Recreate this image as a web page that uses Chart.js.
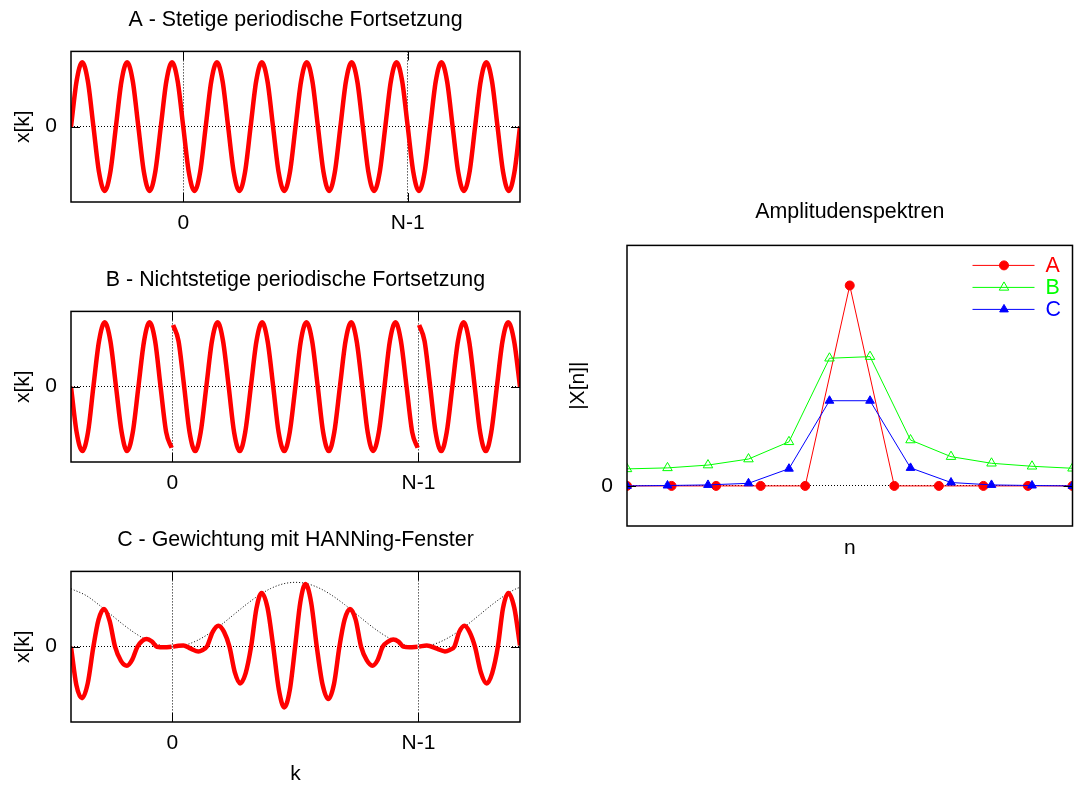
<!DOCTYPE html>
<html>
<head>
<meta charset="utf-8">
<script src="https://cdn.jsdelivr.net/npm/chart.js@4.4.1/dist/chart.umd.min.js"></script>
<style>
  body { margin: 0; background: #fff; }
  #page { position: relative; width: 1079px; height: 785px; overflow: hidden; }
  canvas { position: absolute; }
</style>
</head>
<body>
<div id="page">
  <canvas id="chartA" width="540" height="260" style="left:0px;top:0px"></canvas>
  <canvas id="chartB" width="540" height="260" style="left:0px;top:260px"></canvas>
  <canvas id="chartC" width="540" height="265" style="left:0px;top:520px"></canvas>
  <canvas id="chartSpec" width="539" height="380" style="left:540px;top:190px"></canvas>
</div>
<script>
Chart.defaults.font.family = "'Liberation Sans', Arial, sans-serif";
Chart.defaults.font.size = 21;
Chart.defaults.color = '#000';

// x axis in units of the block: 0 -> k=0, 1 -> k=N-1
const tickPos = [0, 1];
const tickLabels = ['0', 'N-1'];

// A - stetig (5 Perioden im Block)
const kA = [-0.5, -0.475, -0.45, -0.425, -0.4, -0.375, -0.35, -0.325, -0.3, -0.275,
  -0.25, -0.225, -0.2, -0.175, -0.15, -0.125, -0.1, -0.075, -0.05, -0.025,
  0, 0.025, 0.05, 0.075, 0.1, 0.125, 0.15, 0.175, 0.2, 0.225,
  0.25, 0.275, 0.3, 0.325, 0.35, 0.375, 0.4, 0.425, 0.45, 0.475,
  0.5, 0.525, 0.55, 0.575, 0.6, 0.625, 0.65, 0.675, 0.7, 0.725,
  0.75, 0.775, 0.8, 0.825, 0.85, 0.875, 0.9, 0.925, 0.95, 0.975,
  1, 1.025, 1.05, 1.075, 1.1, 1.125, 1.15, 1.175, 1.2, 1.225,
  1.25, 1.275, 1.3, 1.325, 1.35, 1.375, 1.4, 1.425, 1.45, 1.475, 1.5];
const xA = [0, 0.71, 1, 0.71, 0, -0.71, -1, -0.71, 0, 0.71,
  1, 0.71, 0, -0.71, -1, -0.71, 0, 0.71, 1, 0.71,
  0, -0.71, -1, -0.71, 0, 0.71, 1, 0.71, 0, -0.71,
  -1, -0.71, 0, 0.71, 1, 0.71, 0, -0.71, -1, -0.71,
  0, 0.71, 1, 0.71, 0, -0.71, -1, -0.71, 0, 0.71,
  1, 0.71, 0, -0.71, -1, -0.71, 0, 0.71, 1, 0.71,
  0, -0.71, -1, -0.71, 0, 0.71, 1, 0.71, 0, -0.71,
  -1, -0.71, 0, 0.71, 1, 0.71, 0, -0.71, -1, -0.71, 0];

// B - nichtstetig (null = Sprung an der Blockgrenze)
const kB = [-0.412, -0.389, -0.366, -0.343, -0.321, -0.298, -0.275, -0.252, -0.229, -0.206,
  -0.184, -0.161, -0.138, -0.115, -0.093, -0.07, -0.048, -0.025, -0.003, 0,
  0.003, 0.025, 0.048, 0.07, 0.093, 0.115, 0.138, 0.161, 0.184, 0.206,
  0.229, 0.251, 0.274, 0.296, 0.319, 0.342, 0.365, 0.387, 0.41, 0.432,
  0.455, 0.477, 0.5, 0.522, 0.545, 0.568, 0.591, 0.613, 0.636, 0.658,
  0.681, 0.704, 0.727, 0.749, 0.772, 0.794, 0.816, 0.839, 0.862, 0.884,
  0.907, 0.929, 0.952, 0.975, 0.997, 1,
  1.003, 1.025, 1.048, 1.07, 1.093, 1.115, 1.138, 1.161, 1.184, 1.206,
  1.229, 1.251, 1.274, 1.296, 1.319, 1.342, 1.365, 1.389, 1.413];
const xB = [0, -0.71, -1, -0.71, 0, 0.71, 1, 0.71, 0, -0.71,
  -1, -0.71, 0, 0.71, 1, 0.71, 0, -0.71, -0.95, null,
  0.96, 0.71, 0, -0.71, -1, -0.71, 0, 0.71, 1, 0.71,
  0, -0.71, -1, -0.71, 0, 0.71, 1, 0.71, 0, -0.71,
  -1, -0.71, 0, 0.71, 1, 0.71, 0, -0.71, -1, -0.71,
  0, 0.71, 1, 0.71, 0, -0.71, -1, -0.71, 0, 0.71,
  1, 0.71, 0, -0.71, -0.95, null,
  0.96, 0.71, 0, -0.71, -1, -0.71, 0, 0.71, 1, 0.71,
  0, -0.71, -1, -0.71, 0, 0.71, 1, 0.71, 0];

// C - mit HANNing-Fenster gewichtet
const kC = [-0.412, -0.39, -0.367, -0.344, -0.321, -0.3, -0.278, -0.255, -0.233, -0.209,
  -0.185, -0.163, -0.142, -0.123, -0.104, -0.083, -0.063, -0.03, -0.003, 0,
  0.003, 0.025, 0.045, 0.075, 0.106, 0.123, 0.14, 0.164, 0.187, 0.21,
  0.232, 0.254, 0.275, 0.298, 0.32, 0.342, 0.363, 0.387, 0.41, 0.433,
  0.455, 0.477, 0.499, 0.52, 0.541, 0.564, 0.587, 0.61, 0.634, 0.657,
  0.679, 0.7, 0.722, 0.745, 0.767, 0.79, 0.813, 0.834, 0.855, 0.877,
  0.898, 0.919, 0.939, 0.965, 0.997, 1,
  1.003, 1.034, 1.075, 1.108, 1.127, 1.146, 1.166, 1.187, 1.208, 1.23,
  1.254, 1.278, 1.3, 1.323, 1.344, 1.366, 1.39, 1.413];
const xC = [0, -0.6, -0.8, -0.57, 0, 0.42, 0.585, 0.4, 0, -0.22,
  -0.295, -0.2, 0, 0.09, 0.12, 0.08, 0, -0.01, 0, null,
  0, 0.015, 0.02, -0.03, -0.073, -0.05, 0, 0.23, 0.327, 0.23,
  0, -0.4, -0.57, -0.41, 0, 0.6, 0.835, 0.6, 0, -0.67,
  -0.943, -0.68, 0, 0.69, 0.975, 0.69, 0, -0.58, -0.814, -0.58,
  0, 0.42, 0.585, 0.42, 0, -0.21, -0.295, -0.21, 0, 0.08,
  0.11, 0.08, 0, -0.01, 0, null,
  0, 0.02, -0.03, -0.073, -0.05, 0, 0.23, 0.327, 0.23, 0,
  -0.4, -0.57, -0.41, 0, 0.6, 0.835, 0.6, 0.02];

// Fenster (gepunktet)
const kWin = [-0.412, -0.35, -0.3, -0.25, -0.2, -0.15, -0.1, -0.05, 0,
  0.05, 0.1, 0.15, 0.2, 0.25, 0.3, 0.35, 0.4, 0.45, 0.5,
  0.55, 0.6, 0.65, 0.7, 0.75, 0.8, 0.85, 0.9, 0.95, 1,
  1.05, 1.1, 1.15, 1.2, 1.25, 1.3, 1.35, 1.4, 1.413];
const win = [0.9, 0.794, 0.655, 0.5, 0.345, 0.206, 0.095, 0.024, 0,
  0.024, 0.095, 0.206, 0.345, 0.5, 0.655, 0.794, 0.905, 0.976, 1,
  0.976, 0.905, 0.794, 0.655, 0.5, 0.345, 0.206, 0.095, 0.024, 0,
  0.024, 0.095, 0.206, 0.345, 0.5, 0.655, 0.794, 0.905, 0.92];

// Amplitudenspektren
const nA = [0, 0.1, 0.2, 0.3, 0.4, 0.5, 0.6, 0.7, 0.8, 0.9, 1];
const nBC = [0, 0.0909, 0.1818, 0.2727, 0.3636, 0.4545, 0.5455, 0.6364, 0.7273, 0.8182, 0.9091, 1];
const specA = [0, 0, 0, 0, 0, 1, 0, 0, 0, 0, 0];
const specB = [0.085, 0.09, 0.104, 0.134, 0.22, 0.637, 0.645, 0.229, 0.146, 0.113, 0.098, 0.088];
const specC = [0, 0.002, 0.005, 0.013, 0.086, 0.425, 0.425, 0.09, 0.017, 0.005, 0.002, 0];

function pts(xs, ys) {
  return xs.map((x, i) => ({ x: x, y: ys[i] }));
}

// gnuplot-like frame with inward tick marks
const gnuFrame = {
  id: 'gnuFrame',
  afterDatasetsDraw(chart) {
    const { ctx, chartArea: a, scales } = chart;
    ctx.save();
    ctx.setLineDash([]);
    ctx.strokeStyle = '#000';
    ctx.lineWidth = 1;
    ctx.beginPath();
    if (scales.x.options.ticks.display) {
      scales.x.ticks.forEach(t => {
        const px = Math.round(scales.x.getPixelForValue(t.value)) + 0.5;
        ctx.moveTo(px, a.bottom); ctx.lineTo(px, a.bottom - 9);
        ctx.moveTo(px, a.top); ctx.lineTo(px, a.top + 9);
      });
    }
    scales.y.ticks.forEach(t => {
      const py = Math.round(scales.y.getPixelForValue(t.value)) + 0.5;
      ctx.moveTo(a.left, py); ctx.lineTo(a.left + 9, py);
      ctx.moveTo(a.right, py); ctx.lineTo(a.right - 9, py);
    });
    ctx.stroke();
    ctx.lineWidth = 1.5;
    ctx.strokeRect(a.left, a.top, a.right - a.left, a.bottom - a.top);
    ctx.restore();
  }
};

function redLine(xs, ys) {
  return {
    data: pts(xs, ys),
    borderColor: '#ff0000',
    borderWidth: 4.5,
    pointRadius: 0,
    cubicInterpolationMode: 'monotone',
    spanGaps: false,
    fill: false,
    order: 0
  };
}

function wavePanel(id, title, datasets, xMin, xMax, xAxisHeight, xTitle) {
  return new Chart(document.getElementById(id), {
    type: 'line',
    data: { datasets: datasets },
    options: {
      responsive: false,
      animation: false,
      layout: { padding: { left: 0, right: 20, top: 0, bottom: 0 } },
      plugins: {
        legend: { display: false },
        tooltip: { enabled: false },
        title: {
          display: true,
          fullSize: false,
          text: title,
          color: '#000',
          font: { size: 21.4, weight: 'normal', lineHeight: 1 },
          padding: { top: 9.5, bottom: 20.5 }
        }
      },
      scales: {
        x: {
          type: 'linear',
          min: xMin,
          max: xMax,
          afterBuildTicks: s => { s.ticks = tickPos.map(v => ({ value: v })); },
          afterFit: s => { s.height = xAxisHeight; },
          ticks: {
            autoSkip: false,
            maxRotation: 0,
            padding: 10.5,
            font: { lineHeight: 1 },
            callback: (v, i) => tickLabels[i]
          },
          grid: { color: '#000', lineWidth: 1, drawTicks: false },
          border: { display: false, dash: [1, 2] },
          title: {
            display: !!xTitle,
            text: xTitle || '',
            font: { lineHeight: 1 },
            padding: { top: 0, bottom: 0 }
          }
        },
        y: {
          min: -1.17,
          max: 1.17,
          afterBuildTicks: s => { s.ticks = [{ value: 0 }]; },
          afterFit: s => { s.width = 71; },
          ticks: { padding: 14, font: { lineHeight: 1 }, callback: () => '0' },
          grid: { color: '#000', lineWidth: 1, drawTicks: false },
          border: { display: false, dash: [1, 2] },
          title: {
            display: true,
            text: 'x[k]',
            font: { lineHeight: 1 },
            padding: { top: 12.5, bottom: 0 }
          }
        }
      }
    },
    plugins: [gnuFrame]
  });
}

wavePanel('chartA', 'A - Stetige periodische Fortsetzung',
  [redLine(kA, xA)], -0.5, 1.5, 58);

wavePanel('chartB', 'B - Nichtstetige periodische Fortsetzung',
  [redLine(kB, xB)], -0.412, 1.413, 58);

wavePanel('chartC', 'C - Gewichtung mit HANNing-Fenster',
  [redLine(kC, xC), {
    data: pts(kWin, win),
    borderColor: '#000',
    borderWidth: 1,
    borderDash: [1, 2],
    pointRadius: 0,
    cubicInterpolationMode: 'monotone',
    fill: false,
    order: 1
  }], -0.412, 1.413, 63, 'k');

// legend inside the spectrum plot (line + marker + coloured text)
const specLegend = {
  id: 'specLegend',
  afterDraw(chart) {
    const { ctx, chartArea: a } = chart;
    chart.data.datasets.forEach((ds, i) => {
      const y = a.top + 20 + i * 22;
      const mx = a.right - 68.5;
      const r = ds.pointRadius;
      ctx.save();
      ctx.strokeStyle = ds.borderColor;
      ctx.lineWidth = 1;
      ctx.beginPath();
      ctx.moveTo(a.right - 100, y);
      ctx.lineTo(a.right - 38, y);
      ctx.stroke();
      ctx.fillStyle = ds.backgroundColor;
      ctx.beginPath();
      if (ds.pointStyle === 'circle') {
        ctx.arc(mx, y, r, 0, 2 * Math.PI);
      } else {
        ctx.moveTo(mx, y - r);
        ctx.lineTo(mx + r * 0.866, y + r / 2);
        ctx.lineTo(mx - r * 0.866, y + r / 2);
        ctx.closePath();
      }
      ctx.fill();
      ctx.stroke();
      ctx.fillStyle = ds.borderColor;
      ctx.font = "21.4px 'Liberation Sans', Arial, sans-serif";
      ctx.textAlign = 'left';
      ctx.textBaseline = 'middle';
      ctx.fillText(ds.label, a.right - 27, y + 1);
      ctx.restore();
    });
  }
};

new Chart(document.getElementById('chartSpec'), {
  type: 'line',
  data: {
    datasets: [
      {
        label: 'A',
        data: pts(nA, specA),
        borderColor: '#ff0000',
        backgroundColor: '#ff0000',
        borderWidth: 1,
        pointStyle: 'circle',
        pointRadius: 4.5,
        pointBorderWidth: 1,
        order: 3
      },
      {
        label: 'B',
        data: pts(nBC, specB),
        borderColor: '#00ff00',
        backgroundColor: 'rgba(0,0,0,0)',
        borderWidth: 1,
        pointStyle: 'triangle',
        pointRadius: 5.5,
        pointBorderWidth: 1,
        order: 2
      },
      {
        label: 'C',
        data: pts(nBC, specC),
        borderColor: '#0000ff',
        backgroundColor: '#0000ff',
        borderWidth: 1,
        pointStyle: 'triangle',
        pointRadius: 5,
        pointBorderWidth: 1,
        order: 1
      }
    ]
  },
  options: {
    responsive: false,
    animation: false,
    layout: { padding: { left: 0, right: 5, top: 0, bottom: 0 } },
    plugins: {
      legend: { display: false },
      tooltip: { enabled: false },
      title: {
        display: true,
        fullSize: false,
        text: 'Amplitudenspektren',
        color: '#000',
        font: { size: 21.4, weight: 'normal', lineHeight: 1 },
        padding: { top: 11.5, bottom: 22.5 }
      }
    },
    scales: {
      x: {
        type: 'linear',
        min: 0,
        max: 1,
        afterFit: s => { s.height = 44; },
        ticks: { display: false },
        grid: { display: false },
        border: { display: false },
        title: {
          display: true,
          text: 'n',
          font: { lineHeight: 1 },
          padding: { top: 0, bottom: 11.5 }
        }
      },
      y: {
        min: -0.2,
        max: 1.2,
        afterBuildTicks: s => { s.ticks = [{ value: 0 }]; },
        afterFit: s => { s.width = 87; },
        ticks: { padding: 14, font: { lineHeight: 1 }, callback: () => '0' },
        grid: { color: '#000', lineWidth: 1, drawTicks: false },
        border: { display: false, dash: [1, 2] },
        title: {
          display: true,
          text: '|X[n]|',
          font: { lineHeight: 1 },
          padding: { top: 27.5, bottom: 0 }
        }
      }
    }
  },
  plugins: [gnuFrame, specLegend]
});
</script>
</body>
</html>
